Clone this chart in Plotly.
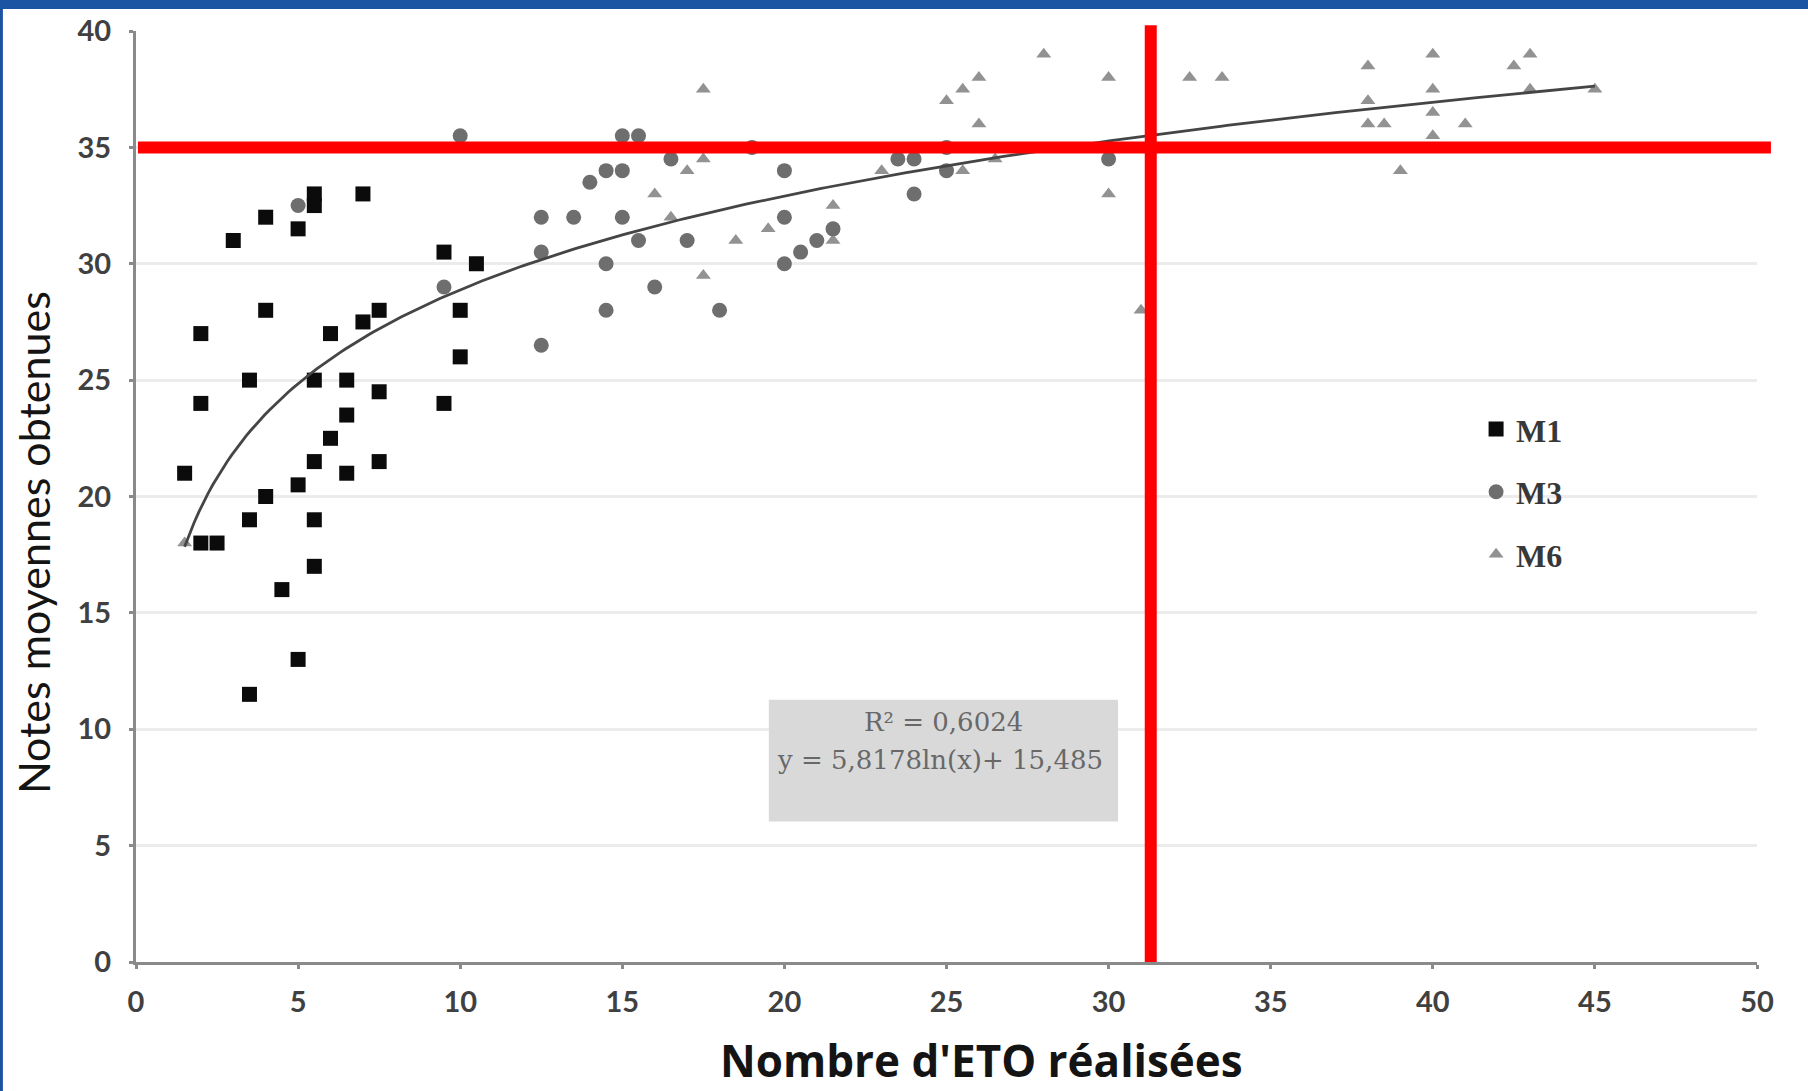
import numpy as np
import plotly.graph_objects as go

# Average mark obtained vs. number of ETO performed, per group
m1_x = [1.5, 2, 2, 2, 2.5, 3, 3.5, 3.5, 3.5, 4, 4, 4, 4.5, 5, 5, 5, 5.5, 5.5, 5.5,
        5.5, 5.5, 5.5, 6, 6, 6.5, 6.5, 6.5, 7, 7, 7.5, 7.5, 7.5, 9.5, 9.5, 10, 10, 10.5]
m1_y = [21, 27, 24, 18, 18, 31, 25, 19, 11.5, 32, 28, 20, 16, 31.5, 20.5, 13, 33, 32.5, 25,
        21.5, 19, 17, 27, 22.5, 25, 23.5, 21, 33, 27.5, 28, 24.5, 21.5, 30.5, 24, 28, 26, 30]

m3_x = [5, 9.5, 10, 12.5, 12.5, 12.5, 13.5, 14, 14.5, 15, 15, 14.5, 14.5, 15, 15.5, 15.5,
        16, 16.5, 17, 18, 19, 20, 20, 20, 20.5, 21, 21.5, 23.5, 24, 24, 25, 25, 30]
m3_y = [32.5, 29, 35.5, 32, 30.5, 26.5, 32, 33.5, 34, 34, 32, 30, 28, 35.5, 35.5, 31,
        29, 34.5, 31, 28, 35, 34, 32, 30, 30.5, 31, 31.5, 34.5, 34.5, 33, 35, 34, 34.5]

m6_x = [1.5, 16, 16.5, 17, 17.5, 17.5, 17.5, 18.5, 19.5, 21.5, 21.5, 23, 25, 25.5, 26, 26,
        25.5, 26.5, 28, 30, 30, 31, 32.5, 33.5, 38, 38, 38, 38.5, 39, 40, 40, 40, 40, 41,
        42.5, 43, 43, 45]
m6_y = [18, 33, 32, 34, 34.5, 37.5, 29.5, 31, 31.5, 32.5, 31, 34, 37, 37.5, 38, 36,
        34, 34.5, 39, 38, 33, 28, 38, 38, 38.5, 37, 36, 36, 34, 39, 37.5, 36.5, 35.5, 36,
        38.5, 39, 37.5, 37.5]

# Logarithmic trend line y = a*ln(x) + b fitted on all groups
fit_a = 5.8178
fit_b = 15.485
fit_r2 = 0.6024
fit_x_min = 1.5
fit_x_max = 45

# Reference thresholds
note_threshold = 35
eto_threshold = 31.3

x_ticks = list(range(0, 51, 5))
y_ticks = list(range(0, 41, 5))

fig = go.Figure()

# triangles at the back, squares at the front; legend keeps M1, M3, M6 order
fig.add_trace(go.Scatter(
    x=m6_x, y=m6_y, mode="markers", name="M6", legendrank=3, legendgroup="M6",
    marker=dict(symbol="triangle-up", size=13, color="#929292"),
))
fig.add_trace(go.Scatter(
    x=m3_x, y=m3_y, mode="markers", name="M3", legendrank=2, legendgroup="M3",
    marker=dict(symbol="circle", size=15, color="#6e6e6e"),
))
fig.add_trace(go.Scatter(
    x=m1_x, y=m1_y, mode="markers", name="M1", legendrank=1, legendgroup="M1",
    marker=dict(symbol="square", size=15, color="#0b0b0b"),
))

fit_x = np.linspace(fit_x_min, fit_x_max, 300)
fit_y = fit_a * np.log(fit_x) + fit_b
fig.add_trace(go.Scatter(
    x=fit_x, y=fit_y, mode="lines", showlegend=False, hoverinfo="skip",
    line=dict(color="#454545", width=2.8),
))

tick_font = dict(family="Lato", size=29, color="#404040", weight="bold")
axis_common = dict(
    showline=True, linecolor="#8a8a8a", linewidth=3,
    ticks="outside", ticklen=4, tickwidth=3, tickcolor="#8a8a8a",
    tickfont=tick_font, zeroline=False,
)

fig.update_xaxes(
    range=[0, 50], tickvals=x_ticks, showgrid=False,
    ticklabelstandoff=8, **axis_common,
)
fig.update_yaxes(
    range=[0, 40], tickvals=y_ticks, showgrid=True,
    gridcolor="#ececec", gridwidth=3, ticklabelstandoff=12, **axis_common,
)

fmt = lambda v, d: f"{v:.{d}f}".replace(".", ",")

shapes = [
    # equation box
    dict(type="rect", xref="x", yref="y", x0=19.52, x1=30.29, y0=6.04, y1=11.27,
         fillcolor="#d9d9d9", line=dict(width=0), layer="between"),
    # threshold lines
    dict(type="line", xref="paper", yref="y", x0=0.0012, x1=1.0086,
         y0=note_threshold, y1=note_threshold,
         line=dict(color="#ff0000", width=12), layer="above"),
    dict(type="line", xref="x", yref="paper", x0=eto_threshold, x1=eto_threshold,
         y0=0, y1=1.0062, line=dict(color="#ff0000", width=12), layer="above"),
    # slide frame
    dict(type="rect", xref="paper", yref="paper", x0=-0.09, x1=1.04,
         y0=1.0236, y1=1.04, fillcolor="#1c54a4", line=dict(width=0), layer="above"),
    dict(type="rect", xref="paper", yref="paper", x0=-0.09, x1=-0.0821,
         y0=-0.15, y1=1.04, fillcolor="#1c54a4", line=dict(width=0), layer="above"),
]

annotations = [
    dict(xref="x", yref="y", x=24.9, y=10.33, showarrow=False,
         text=f"R² = {fmt(fit_r2, 4)}",
         font=dict(family="DejaVu Serif", size=26, color="#686868")),
    dict(xref="x", yref="y", x=24.8, y=8.66, showarrow=False,
         text=f"y = {fmt(fit_a, 4)}ln(x)+ {fmt(fit_b, 3)}",
         font=dict(family="DejaVu Serif", size=26, color="#686868")),
    dict(xref="paper", yref="paper", x=0.5213, y=-0.1383, xanchor="center",
         yanchor="bottom", showarrow=False, text="Nombre d'ETO réalisées",
         borderpad=0,
         font=dict(family="Open Sans", size=44, color="#141414", weight="bold")),
    dict(xref="paper", yref="paper", x=-0.0635, y=0.450, xanchor="center",
         yanchor="middle", showarrow=False, textangle=-90,
         text="Notes moyennes obtenues",
         font=dict(family="Lato", size=43, color="#141414")),
]

fig.update_layout(
    width=1808, height=1091, autosize=False,
    margin=dict(l=136, r=51, t=29, b=129),
    paper_bgcolor="#ffffff", plot_bgcolor="#ffffff",
    shapes=shapes, annotations=annotations,
    legend=dict(
        x=0.8267, y=0.6017, xanchor="left", yanchor="top",
        bgcolor="rgba(0,0,0,0)", traceorder="grouped", tracegroupgap=18,
        font=dict(family="Liberation Serif", size=32, color="#383838", weight="bold"),
        itemwidth=30,
    ),
)

fig.write_html("out.html")
